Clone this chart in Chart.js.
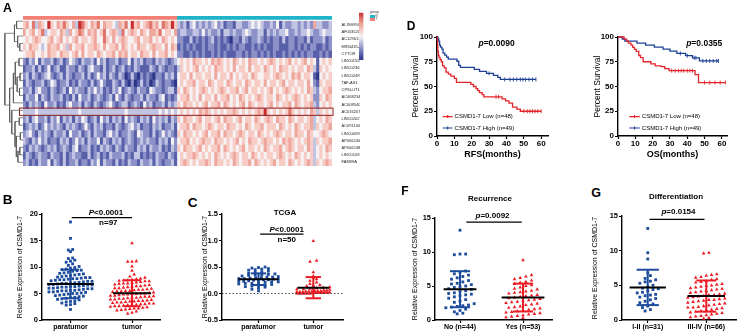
<!DOCTYPE html>
<html>
<head>
<meta charset="utf-8">
<script src="https://cdn.jsdelivr.net/npm/chart.js@4.4.1/dist/chart.umd.min.js"></script>
<style>
html, body { margin: 0; padding: 0; background: #fff; }
#fig { position: relative; width: 740px; height: 334px; overflow: hidden; font-family: 'Liberation Sans', Arial, sans-serif; color: #000; }
#fig canvas { position: absolute; }
.lbl { position: absolute; white-space: nowrap; line-height: 1; transform: translate(-50%, -50%); font-weight: bold; }
.sm { position: absolute; white-space: nowrap; line-height: 1; }
</style>
</head>
<body>
<div id="fig"></div>
<script>
//---------------------- A: heatmap data ----------------------
const geneNames = ['AL390956.3', 'AF003520.3', 'AC129611.2', 'MIR4435-2HG', 'CYTOR',
    'LINC01554', 'LINC02362', 'LINC02499', 'TAF-AS1', 'CPSU-IT1', 'AC068234.1', 'AC008540.1',
    'AC016207.1', 'LINC02027', 'AC091100.1', 'LINC00596', 'AP006240.2', 'AP006248.3', 'LINC01093', 'FAM99A'];
const highlightRow = 12;
const nTumor = 50, nNormal = 50;
// one digit per sample, 0 = -3 ... 4 = 0 ... 8 = +3  (first 50 = T, last 50 = N)
const heatRows = [
    '5647365485 4657546387 5465746554 3657485645 6756476585  3231342323 2342312213 3223434322 3241322332 3232633223',
    '6456457345 5465364576 4656457456 5374565465 4665745546  2332233242 3223133232 2343223313 2323342232 3343223433',
    '4545654456 4564545645 5456447546 4565445645 5645465454  2211312121 2312121022 1321223212 1221312212 2131222312',
    '5465543465 5645364556 4556546455 6465454655 4565546465  1212121121 2212112121 2211212121 1221112212 1212211212',
    '4556445465 5465545646 4554654556 4656455465 5464556454  2211212121 1212121112 2121221212 1211212121 2122112121',
    '2132413223 1231243213 2231423122 3122413231 2213232123  4545465545 4656545465 4546554545 6545456454 5645414545',
    '1223131241 2311322132 1342213123 1231213211 1321321221  3545456454 5465545464 5546455465 4546554545 5465315454',
    '2313212342 1231321223 1312423132 1320131021 2102213231  4554645545 5464554645 4554654455 4565454656 4554104545',
    '1321223124 3122312132 2131242113 2131020131 2013212210  4545564554 6545546545 5465455464 5545645545 5464215455',
    '2231342213 2123142322 1324231213 2412321322 1432212331  5465454565 4545654556 4564554545 6454565454 5465324556',
    '1322413213 2231213142 2312321231 4213212231 3221341212  4556454645 5464556454 6545456545 5465454565 4545225465',
    '2132321422 3121342231 3213212342 1233123214 2312231323  5465545456 4556465454 5646545545 6454556465 4556324545',
    '3333433333 3333333343 3333333333 3334333333 3333434343  4545454656 5454545565 4545456585 4545457545 4546535454',
    '2313422313 2413231324 3123142313 2314232132 3142323132  5465545645 5456465545 6455465456 5465546545 5456345465',
    '1232312423 2321323212 4213231221 3212342312 2132312231  4556465545 6545546554 5465455645 5546545465 4556354556',
    '2342132321 3223142231 2313221342 3122321432 2131242321  5465545456 4556465545 6545546545 4565455465 5465445654',
    '3213242312 2132312423 1322413213 2312321232 3221323142  4556454565 5465545456 4546554565 5454656545 4565354556',
    '2132321232 3123213412 2312132321 3213221323 1322312132  5465545645 4556465454 5645545465 4556456545 5465345465',
    '1321232213 2213123221 1312312132 2231213312 1213221321  4545565454 5465454565 4554654545 5456545465 4545345454',
    '2312132241 3213122312 2132413221 3121322132 2313212231  4565454556 5465545465 4556465454 5645546545 4565354565'
];
const heatPalette = ['#2c3589', '#5960aa', '#8c91c7', '#c1c4e3', '#f6f2f4', '#f6ccc5', '#efa69c', '#e0766b', '#c72d2f'];
// [child a, child b, height]; merged nodes are numbered from 20 on
const dendroMerges = [[3, 4, 1.2], [2, 20, 2.0], [0, 1, 2.4], [22, 21, 3.2], [5, 6, 1.5], [7, 8, 1.1],
    [9, 10, 1.3], [25, 26, 2.2], [24, 27, 2.9], [28, 11, 3.6], [13, 14, 1.4], [15, 16, 1.0], [17, 18, 1.2],
    [32, 19, 1.9], [31, 33, 2.5], [30, 34, 3.0], [12, 35, 4.2], [29, 36, 5.0], [23, 37, 6.8]];

//---------------------- D: survival data ----------------------
const rfsLowT = [0.1, 0.2, 0.3, 0.4, 0.5, 0.8, 1.2, 1.8, 2.5, 3.2, 4.2, 5.2, 6.5, 8.0, 10.0, 11.2, 19.5, 21.0, 22.5, 23.5, 24.5, 26.0, 27.0, 37.5, 39.5, 41.5, 43.5, 46.0, 48.0];
const rfsLowS = [97.9, 95.8, 93.8, 89.6, 85.4, 81.3, 79.2, 77.1, 75.0, 70.8, 68.8, 64.6, 62.5, 60.4, 58.3, 54.2, 52.1, 50.0, 47.9, 45.8, 43.8, 41.7, 39.6, 37.5, 35.4, 33.3, 29.2, 27.1, 25.0];
const rfsLowCens = [34, 35.5, 50, 52, 53.5, 55, 56.5, 58, 60];
const rfsHighT = [0.5, 1.0, 1.5, 2.0, 2.8, 3.5, 4.5, 5.5, 6.5, 11.5, 12.5, 13.5, 21.5, 24.5, 28.5, 32.5, 35.0, 36.5];
const rfsHighS = [98.0, 95.9, 91.8, 89.8, 87.8, 83.7, 81.6, 79.6, 77.6, 75.5, 71.4, 69.4, 67.3, 65.3, 63.3, 61.2, 59.2, 57.1];
const rfsHighCens = [30, 39, 42, 44, 46, 48, 49.5, 51, 53, 55, 57];
const osLowT = [3.5, 5.0, 6.0, 7.5, 8.5, 9.5, 10.5, 12.0, 13.0, 14.5, 19.0, 21.5, 25.0, 27.0, 29.5, 44.5, 46.5];
const osLowS = [97.9, 95.8, 93.8, 91.7, 89.6, 87.5, 85.4, 81.3, 79.2, 75.0, 72.9, 70.8, 70.0, 68.0, 66.0, 62.0, 54.0];
const osLowCens = [31, 33, 35, 36.5, 38, 40, 41.5, 43, 50, 53, 56, 59, 62];
const osHighT = [2.5, 4.0, 11.0, 16.0, 21.0, 26.0, 30.0, 34.0, 39.0, 43.0, 47.0];
const osHighS = [98.0, 95.9, 93.9, 91.8, 89.8, 87.8, 85.7, 83.4, 81.2, 79.0, 75.8];
const osHighCens = [36, 40, 44, 45, 49, 51, 53, 55, 57, 58];
const kmLabels = ['CSMD1-7 Low (n=48)', 'CSMD1-7 High (n=49)'];

//---------------------- B, C, F, G: expression data ----------------------
const bCats = ['paratumor', 'tumor'];
const bPara = [18.5, 15.4, 13.3, 13.2, 12.9, 11.7, 11.6, 11.3, 11.1, 10.9,
    10.6, 10.3, 10.1, 9.9, 9.8, 9.6, 9.5, 9.4, 9.3, 9.2, 9.0, 8.9, 8.8, 8.7, 8.6, 8.5, 8.4, 8.3, 8.2, 8.1,
    8.0, 7.9, 7.8, 7.8, 7.7, 7.6, 7.5, 7.4, 7.3, 7.2, 7.1, 7.0, 7.0, 6.9, 6.8, 6.7, 6.6, 6.6, 6.5, 6.4,
    6.3, 6.2, 6.2, 6.1, 6.0, 5.9, 5.9, 5.8, 5.7, 5.6, 5.5, 5.5, 5.4, 5.3, 5.2, 5.1, 5.0, 5.0, 4.9, 4.8,
    4.7, 4.6, 4.5, 4.4, 4.3, 4.2, 4.1, 4.0, 3.9, 3.8, 3.6, 3.5, 3.4, 3.2, 3.1, 2.9, 2.8, 2.0, 6.3, 7.3,
    6.9, 5.6, 8.0, 7.6, 6.7, 5.3, 6.0];
const bTumor = [14.5, 11.1, 11.0, 11.0, 10.1, 9.3, 8.6, 8.2, 8.0, 7.8,
    7.7, 7.6, 7.5, 7.5, 7.4, 7.3, 7.2, 7.1, 7.0, 6.9, 6.8, 6.7, 6.6, 6.5, 6.4, 6.3, 6.2, 6.1, 6.0, 6.0,
    5.9, 5.8, 5.7, 5.6, 5.5, 5.5, 5.4, 5.3, 5.2, 5.1, 5.0, 4.9, 4.9, 4.8, 4.7, 4.6, 4.5, 4.4, 4.4, 4.3,
    4.2, 4.1, 4.0, 4.0, 3.9, 3.8, 3.7, 3.6, 3.5, 3.5, 3.4, 3.3, 3.2, 3.1, 3.0, 3.0, 2.9, 2.8, 2.7, 2.6,
    2.5, 2.4, 2.3, 2.2, 2.1, 2.0, 1.9, 1.8, 1.6, 1.4, 1.2, 6.4, 5.7, 4.6, 3.3, 2.6, 7.3, 5.0, 3.9, 2.9,
    6.9, 4.2, 3.6, 5.4, 2.2, 4.8, 3.1];
const bMean = [6.8, 5.05], bSd = [2.7, 2.45];

const cCats = ['paratumor', 'tumor'];
const cPara = [0.50, 0.49, 0.48, 0.47, 0.46, 0.45, 0.44, 0.42, 0.41, 0.40,
    0.38, 0.37, 0.36, 0.35, 0.34, 0.33, 0.32, 0.31, 0.30, 0.30, 0.29, 0.28, 0.28, 0.27, 0.27,
    0.26, 0.25, 0.25, 0.24, 0.23, 0.22, 0.22, 0.21, 0.20, 0.19, 0.18, 0.17, 0.16, 0.15, 0.14,
    0.13, 0.12, 0.10, 0.08, 0.05, 0.26, 0.31, 0.23, 0.35, 0.19];
const cTumor = [0.99, 0.62, 0.60, 0.40, 0.33, 0.30, 0.27, 0.24, 0.21, 0.18,
    0.16, 0.14, 0.12, 0.11, 0.10, 0.09, 0.08, 0.08, 0.07, 0.06, 0.06, 0.05, 0.05, 0.04, 0.04,
    0.04, 0.03, 0.03, 0.03, 0.02, 0.02, 0.02, 0.02, 0.01, 0.01, 0.01, 0.01, 0.01, 0.01, 0.00,
    0.00, 0.00, 0.00, 0.00, 0.00, 0.00, 0.00, 0.00, 0.15, 0.05];
const cMean = [0.27, 0.11], cSd = [0.11, 0.2];

const fCats = ['No (n=44)', 'Yes (n=53)'];
const fNo = [13.2, 9.7, 9.7, 9.6, 7.2, 7.0, 6.8, 6.6, 6.4, 6.2, 6.0, 5.8, 5.6, 5.4, 5.2, 5.0, 4.9, 4.8, 4.6, 4.5,
    4.3, 4.2, 4.0, 3.9, 3.7, 3.6, 3.4, 3.2, 3.0, 2.8, 2.6, 2.4, 2.2, 2.0, 1.9, 1.8, 1.6, 1.4, 1.2, 1.0,
    0.9, 5.3, 3.8, 2.1];
const fYes = [8.8, 6.6, 6.4, 6.2, 6.0, 5.8, 5.6, 5.5, 5.3, 5.1, 5.0, 4.8, 4.6, 4.5, 4.3, 4.2, 4.0, 3.9, 3.7, 3.6,
    3.5, 3.3, 3.2, 3.1, 3.0, 2.9, 2.8, 2.6, 2.5, 2.4, 2.3, 2.2, 2.0, 1.9, 1.8, 1.6, 1.5, 1.4, 1.3, 1.2,
    1.1, 1.0, 0.9, 0.8, 0.7, 0.6, 0.5, 0.4, 0.3, 4.1, 2.7, 3.4, 1.7];
const fMean = [4.53, 3.3], fSd = [2.65, 2.05];

const gCats = ['I-II (n=31)', 'III-IV (n=66)'];
const gLow = [13.2, 9.7, 8.8, 6.8, 6.4, 6.0, 5.8, 5.5, 5.3, 5.0, 4.8, 4.6, 4.4, 4.2, 4.0, 3.9, 3.7, 3.5, 3.3, 3.1,
    2.9, 2.7, 2.5, 2.3, 2.0, 1.8, 1.5, 1.3, 5.6, 4.5, 3.6];
const gHigh = [9.7, 9.6, 6.6, 6.5, 6.4, 6.2, 6.1, 5.9, 5.8, 5.6, 5.5, 5.4, 5.2, 5.1, 5.0, 4.9, 4.8, 4.6, 4.5, 4.4,
    4.3, 4.2, 4.1, 4.0, 3.9, 3.8, 3.7, 3.6, 3.5, 3.4, 3.3, 3.2, 3.1, 3.0, 2.9, 2.8, 2.7, 2.6, 2.5, 2.4,
    2.3, 2.2, 2.1, 2.0, 1.9, 1.8, 1.7, 1.6, 1.5, 1.4, 1.3, 1.2, 1.1, 1.0, 0.9, 0.8, 0.7, 0.6, 0.5, 0.4,
    0.3, 0.2, 3.6, 2.9, 4.7, 1.8];
const gMean = [4.7, 3.45], gSd = [2.55, 2.25];

//---------------------------------------------------------------------
const FONT = "'Liberation Sans', Arial, sans-serif";
const BLUE = '#1d4c9c', RED = '#ec1c24';
const KM_RED = '#e3242b', KM_BLUE = '#1c3f95';
Chart.defaults.font.family = FONT;
Chart.defaults.color = '#000';
Chart.defaults.animation = false;
Chart.defaults.responsive = false;
Chart.defaults.events = [];
Chart.defaults.plugins.legend.display = false;
Chart.defaults.plugins.tooltip.enabled = false;

const fig = document.getElementById('fig');
function addCanvas(left, top, w, h) {
    const c = document.createElement('canvas');
    c.width = w; c.height = h;
    c.style.left = left + 'px'; c.style.top = top + 'px';
    c.style.width = w + 'px'; c.style.height = h + 'px';
    fig.appendChild(c);
    return c;
}
function addText(txt, x, y, size, extra) {
    const d = document.createElement('div');
    d.className = 'lbl';
    d.textContent = txt;
    d.style.left = x + 'px'; d.style.top = y + 'px'; d.style.fontSize = size + 'px';
    if (extra) Object.assign(d.style, extra);
    fig.appendChild(d);
}
const fB = s => `bold ${s}px ${FONT}`;
const fBI = s => `italic bold ${s}px ${FONT}`;

// text pieces drawn at data coordinates
function notes(items) {
    return {
        id: 'notes',
        afterDraw(chart) {
            const { ctx, scales: { x, y } } = chart;
            items.forEach(it => {
                const px = x.getPixelForValue(it.x), py = y.getPixelForValue(it.y);
                ctx.save();
                ctx.fillStyle = '#000';
                ctx.textBaseline = 'middle';
                let w = 0;
                it.parts.forEach(([t, f]) => { ctx.font = f; w += ctx.measureText(t).width; });
                let cx = px - w / 2;
                it.parts.forEach(([t, f]) => { ctx.font = f; ctx.fillText(t, cx, py); cx += ctx.measureText(t).width; });
                ctx.restore();
            });
        }
    };
}

//----------------------------- A: heatmap ----------------------------
const heatVals = heatRows.map(r => r.replace(/[^0-9]/g, '').split('').map(Number));
const sampleIds = [];
for (let i = 1; i <= nTumor; i++) sampleIds.push('TCGA-T' + String(i).padStart(2, '0'));
for (let i = 1; i <= nNormal; i++) sampleIds.push('TCGA-N' + String(i).padStart(2, '0'));

const heatSets = [{
    data: sampleIds.map(() => [-0.67, -0.27]),
    backgroundColor: sampleIds.map((s, i) => i < nTumor ? '#f47f75' : '#1fb4c9')
}];
heatVals.forEach((row, r) => {
    heatSets.push({
        data: row.map(() => [r, r + 1]),
        backgroundColor: row.map(v => heatPalette[v])
    });
});

const boxRow = {
    id: 'boxRow',
    afterDraw(chart) {
        const { ctx, chartArea: a, scales: { y } } = chart;
        const t = y.getPixelForValue(highlightRow), b = y.getPixelForValue(highlightRow + 1);
        ctx.save();
        ctx.strokeStyle = '#8c1d1d';
        ctx.lineWidth = 1;
        ctx.strokeRect(a.left - 3.5, t, a.right - a.left + 4.5, b - t);
        ctx.restore();
    }
};

new Chart(addCanvas(3, 12, 357, 168), {
    type: 'bar',
    data: { labels: sampleIds, datasets: heatSets },
    options: {
        layout: { padding: { left: 20, top: 0, right: 0, bottom: 6 } },
        datasets: { bar: { grouped: false, barPercentage: 1, categoryPercentage: 1, borderWidth: 0, inflateAmount: 0.4 } },
        scales: {
            x: {
                grid: { display: false }, border: { display: false },
                ticks: { autoSkip: false, minRotation: 90, maxRotation: 90, font: { size: 3 }, color: '#8a8a8a', padding: 0 },
                afterFit: s => { s.height = 8; }
            },
            y: {
                type: 'linear', position: 'right', reverse: true, min: -0.74, max: geneNames.length,
                grid: { display: false }, border: { display: false },
                afterBuildTicks: s => { s.ticks = geneNames.map((g, i) => ({ value: i + 0.5 })); },
                ticks: { autoSkip: false, callback: v => geneNames[Math.floor(v)], font: { size: 4 }, color: '#222', padding: 1.5 },
                afterFit: s => { s.width = 28; }
            }
        }
    },
    plugins: [boxRow]
});

// dendrogram
const dPos = [], dHgt = [];
geneNames.forEach((g, i) => { dPos[i] = i + 0.5; dHgt[i] = 0; });
const dendroSets = dendroMerges.map(([a, b, h], k) => {
    const id = geneNames.length + k;
    dPos[id] = (dPos[a] + dPos[b]) / 2;
    dHgt[id] = h;
    return {
        data: [{ x: dHgt[a], y: dPos[a] }, { x: h, y: dPos[a] }, { x: h, y: dPos[b] }, { x: dHgt[b], y: dPos[b] }],
        showLine: true, borderColor: '#555', borderWidth: 0.7, pointRadius: 0, clip: false
    };
});
new Chart(addCanvas(3, 12, 20, 168), {
    type: 'scatter',
    data: { datasets: dendroSets },
    options: {
        layout: { padding: { left: 0, top: 0, right: 0, bottom: 14 } },
        scales: {
            x: { type: 'linear', reverse: true, min: 0, max: 7.5, display: false },
            y: { type: 'linear', reverse: true, min: -0.74, max: geneNames.length, display: false }
        }
    }
});

// colour key
new Chart(addCanvas(359, 8, 12, 56), {
    type: 'bar',
    data: {
        labels: [''],
        datasets: [{
            data: [[-3.3, 3.3]], barPercentage: 1, categoryPercentage: 1,
            backgroundColor: ctx => {
                const a = ctx.chart.chartArea;
                if (!a) return '#fff';
                const g = ctx.chart.ctx.createLinearGradient(0, a.bottom, 0, a.top);
                heatPalette.forEach((c, i) => g.addColorStop(i / (heatPalette.length - 1), c));
                return g;
            }
        }]
    },
    options: {
        layout: { padding: { top: 4.7, bottom: 4, left: 0, right: 0 } },
        scales: {
            x: { display: false },
            y: {
                position: 'right', min: -3.3, max: 3.3,
                grid: { display: false }, border: { display: false },
                afterBuildTicks: s => { s.ticks = [-3, -2, -1, 0, 1, 2, 3].map(v => ({ value: v })); },
                ticks: { font: { size: 3.5 }, color: '#333', padding: 1 },
                afterFit: s => { s.width = 7.5; }
            }
        }
    }
});
// group key
fig.insertAdjacentHTML('beforeend',
    '<div class="sm" style="left:370px;top:11px;font-size:3.5px;color:#333">group</div>' +
    '<div class="sm" style="left:370px;top:14.6px;width:4.5px;height:3.2px;background:#1fb4c9"></div>' +
    '<div class="sm" style="left:375.5px;top:14.6px;font-size:3px;color:#333">N</div>' +
    '<div class="sm" style="left:370px;top:18px;width:4.5px;height:3.2px;background:#f47f75"></div>' +
    '<div class="sm" style="left:375.5px;top:18px;font-size:3px;color:#333">T</div>');

//----------------------------- D: survival ----------------------------
function kmPoints(times, surv, end) {
    const pts = [{ x: 0, y: 100 }];
    times.forEach((t, i) => pts.push({ x: t, y: surv[i] }));
    pts.push({ x: end, y: surv[surv.length - 1] });
    return pts;
}
function survAt(times, surv, t) {
    let s = 100;
    times.forEach((tt, i) => { if (tt <= t) s = surv[i]; });
    return s;
}
function kmLegend(x0, x1, ys) {
    return {
        id: 'kmLegend',
        afterDraw(chart) {
            const { ctx, scales: { x, y } } = chart;
            const a = x.getPixelForValue(x0), b = x.getPixelForValue(x1);
            [KM_RED, KM_BLUE].forEach((col, i) => {
                const py = y.getPixelForValue(ys[i]);
                ctx.save();
                ctx.strokeStyle = col;
                ctx.lineWidth = 1.2;
                ctx.beginPath();
                ctx.moveTo(a, py); ctx.lineTo(b, py);
                ctx.moveTo((a + b) / 2, py - 1.5); ctx.lineTo((a + b) / 2, py + 1.5);
                ctx.stroke();
                ctx.fillStyle = '#000';
                ctx.font = `6px ${FONT}`;
                ctx.textBaseline = 'middle';
                ctx.fillText(kmLabels[i], b + 2, py);
                ctx.restore();
            });
        }
    };
}
function kmChart(box, curves, xMax, yW, xTitle, pText, legX) {
    const sets = [];
    curves.forEach(([t, s, cens, end, col]) => {
        sets.push({ data: kmPoints(t, s, end), showLine: true, stepped: true, borderColor: col, borderWidth: 1.3, pointRadius: 0, clip: false });
        sets.push({
            data: cens.map(c => ({ x: c, y: survAt(t, s, c) })),
            pointStyle: 'line', rotation: 90, pointRadius: 2, borderColor: col, borderWidth: 0.9, clip: false
        });
    });
    const axisGrid = { drawOnChartArea: false, tickLength: 3, tickColor: '#000', tickWidth: 1.2 };
    const axisBorder = { color: '#000', width: 1.4 };
    new Chart(addCanvas(box[0], box[1], box[2], box[3]), {
        type: 'scatter',
        data: { datasets: sets },
        options: {
            layout: { padding: { top: 8, right: 4, bottom: 0, left: 0 } },
            scales: {
                x: {
                    type: 'linear', min: 0, max: xMax,
                    afterBuildTicks: s => { s.ticks = [0, 10, 20, 30, 40, 50, 60].map(v => ({ value: v })); },
                    ticks: { font: { size: 8, weight: 'bold' }, padding: 0, maxRotation: 0 },
                    grid: axisGrid, border: axisBorder,
                    title: { display: true, text: xTitle, font: { size: 9, weight: 'bold' }, padding: 0 },
                    afterFit: s => { s.height = 24; }
                },
                y: {
                    min: 0, max: 100,
                    afterBuildTicks: s => { s.ticks = [0, 25, 50, 75, 100].map(v => ({ value: v })); },
                    ticks: { font: { size: 8, weight: 'bold' }, padding: 1 },
                    grid: axisGrid, border: axisBorder,
                    title: { display: true, text: 'Percent Survival', font: { size: 8.5 }, padding: 0 },
                    afterFit: s => { s.width = yW; }
                }
            }
        },
        plugins: [notes([{ x: pText[0], y: 93.6, parts: [['p', fBI(8.5)], [pText[1], fB(8.5)]] }]), kmLegend(legX[0], legX[1], [19.6, 8.1])]
    });
}
kmChart([411, 29, 142, 131],
    [[rfsLowT, rfsLowS, rfsLowCens, 60, KM_RED], [rfsHighT, rfsHighS, rfsHighCens, 57, KM_BLUE]],
    64, 26, 'RFS(months)', [34.3, '=0.0090'], [3.3, 9]);
kmChart([593, 29, 139, 131],
    [[osLowT, osLowS, osLowCens, 62, KM_RED], [osHighT, osHighS, osHighCens, 58, KM_BLUE]],
    63, 25, 'OS(months)', [49.8, '=0.0355'], [6.5, 12.6]);

//----------------------------- B, C, F, G: dot plots ----------------------------
// points with close values share a row; rows are spread sideways, never wider than maxW
function swarm(vals, cx, binH, dx, maxW) {
    const bins = new Map();
    vals.slice().sort((a, b) => a - b).forEach(v => {
        const k = Math.round(v / binH);
        if (!bins.has(k)) bins.set(k, []);
        bins.get(k).push(v);
    });
    const out = [];
    bins.forEach(list => {
        const n = list.length;
        const step = n > 1 ? Math.min(dx, maxW / (n - 1)) : 0;
        list.forEach((v, i) => out.push({ x: cx + (i - (n - 1) / 2) * step, y: v }));
    });
    return out;
}
function seg(x0, y0, x1, y1, color, w, order) {
    return { data: [{ x: x0, y: y0 }, { x: x1, y: y1 }], showLine: true, borderColor: color, borderWidth: w, pointRadius: 0, order, clip: false };
}
function dotPlot(p) {
    const sets = [
        { data: swarm(p.vals[0], 0, p.binH, p.dx, p.maxW[0]), pointStyle: 'rect', pointRadius: 2, backgroundColor: BLUE, borderWidth: 0, order: 5, clip: false },
        { data: swarm(p.vals[1], 1, p.binH, p.dx, p.maxW[1]), pointStyle: 'triangle', pointRadius: 2.1, backgroundColor: RED, borderWidth: 0, order: 5, clip: false }
    ];
    [0, 1].forEach(g => {
        const col = g ? RED : BLUE, m = p.mean[g], s = p.sd[g], c = p.cap[g];
        sets.push(seg(g, m - s, g, m + s, col, 2, 2));
        sets.push(seg(g - c, m + s, g + c, m + s, col, 2, 2));
        sets.push(seg(g - c, m - s, g + c, m - s, col, 2, 2));
        sets.push(seg(g - p.meanHalf[g], m, g + p.meanHalf[g], m, '#000', 2, 1));
    });
    sets.push(seg(p.sig[1], p.sig[0], p.sig[2], p.sig[0], '#000', 1.3, 1));
    if (p.zeroLine) sets.push(Object.assign(seg(p.x[0], 0, p.x[1], 0, '#333', 0.9, 4), { borderDash: [1.5, 2] }));
    const axisGrid = { drawOnChartArea: false, tickLength: 3, tickColor: '#000', tickWidth: 1.2 };
    const axisBorder = { color: '#000', width: 1.4 };
    new Chart(addCanvas(p.box[0], p.box[1], p.box[2], p.box[3]), {
        type: 'scatter',
        data: { datasets: sets },
        options: {
            layout: { padding: { top: 8, right: p.padR, bottom: 0, left: 0 } },
            scales: {
                x: {
                    type: 'linear', min: p.x[0], max: p.x[1],
                    afterBuildTicks: s => { s.ticks = [{ value: 0 }, { value: 1 }]; },
                    ticks: { callback: v => p.cats[v], font: { size: 7, weight: 'bold' }, padding: 0, maxRotation: 0, autoSkip: false },
                    grid: axisGrid, border: axisBorder,
                    afterFit: s => { s.height = 13; }
                },
                y: {
                    min: p.y[0], max: p.y[1],
                    afterBuildTicks: s => { const t = []; for (let v = p.y[0]; v <= p.y[1] + 1e-9; v += p.y[2]) t.push({ value: +v.toFixed(3) }); s.ticks = t; },
                    ticks: { font: { size: 7.5, weight: 'bold' }, padding: 1, callback: p.yFmt || (v => v) },
                    grid: axisGrid, border: axisBorder,
                    title: { display: true, text: 'Relative Expression of CSMD1-7', font: { size: 7 }, padding: 0 },
                    afterFit: s => { s.width = p.yW; }
                }
            }
        },
        plugins: [notes(p.notes)]
    });
}

dotPlot({
    box: [16, 206, 148, 127], padR: 4, yW: 26, x: [-0.463, 1.455], y: [0, 20, 5],
    cats: bCats, vals: [bPara, bTumor], mean: bMean, sd: bSd,
    binH: 0.7, dx: 0.07, maxW: [0.74, 0.7], meanHalf: [0.38, 0.31], cap: [0.14, 0.14], sig: [19.3, 0.02, 1.0],
    notes: [{ x: 0.577, y: 20.2, parts: [['P', fBI(8)], ['<0.0001', fB(8)]] }, { x: 0.615, y: 18.3, parts: [['n=97', fB(8)]] }]
});
dotPlot({
    box: [201, 206, 146, 127], padR: 4, yW: 21, x: [-0.666, 1.542], y: [-0.5, 1.5, 0.5],
    yFmt: v => v.toFixed(1), zeroLine: true,
    cats: cCats, vals: [cPara, cTumor], mean: cMean, sd: cSd,
    binH: 0.05, dx: 0.12, maxW: [0.72, 0.6], meanHalf: [0.365, 0.29], cap: [0.14, 0.14], sig: [1.12, 0.03, 0.82],
    notes: [{ x: 0.515, y: 1.2, parts: [['P', fBI(8)], ['<0.0001', fB(8)]] }, { x: 0.515, y: 1.015, parts: [['n=50', fB(8)]] }]
});
dotPlot({
    box: [411, 210, 145, 123], padR: 4, yW: 24, x: [-0.397, 1.46], y: [0, 15, 5],
    cats: fCats, vals: [fNo, fYes], mean: fMean, sd: fSd,
    binH: 0.7, dx: 0.09, maxW: [0.46, 0.68], meanHalf: [0.26, 0.34], cap: [0.16, 0.16], sig: [14.4, 0.1, 0.98],
    notes: [{ x: 0.516, y: 15.34, parts: [['p', fBI(8)], ['=0.0092', fB(8)]] }]
});
dotPlot({
    box: [591, 208, 149, 125], padR: 3, yW: 31, x: [-0.44, 1.508], y: [0, 15, 5],
    cats: gCats, vals: [gLow, gHigh], mean: gMean, sd: gSd,
    binH: 0.7, dx: 0.09, maxW: [0.42, 0.78], meanHalf: [0.31, 0.32], cap: [0.19, 0.17], sig: [14.5, 0.03, 0.97],
    notes: [{ x: 0.525, y: 15.6, parts: [['p', fBI(8)], ['=0.0154', fB(8)]] }]
});

//----------------------------- panel letters and titles ----------------------------
addText('A', 7.5, 7.5, 12.5);
addText('B', 7.5, 200, 13.5);
addText('C', 192.5, 202.5, 13.5);
addText('D', 411, 26, 12);
addText('F', 405, 191, 12);
addText('G', 596, 192.5, 12.5);
addText('TCGA', 285, 213.3, 8);
addText('Recurrence', 490, 199, 8);
addText('Differentiation', 676, 196.7, 8);
</script>
</body>
</html>
